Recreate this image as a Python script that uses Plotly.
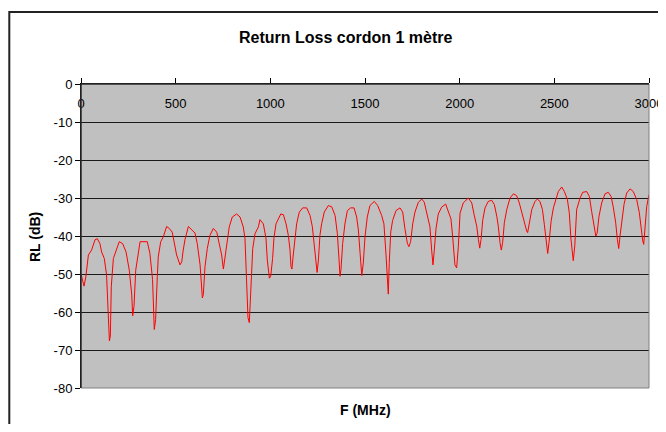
import plotly.graph_objects as go

freq_mhz = [0, 16, 26, 39, 56, 74, 86, 100, 109, 123, 135, 144, 150, 155, 160, 171, 188, 202, 220, 238,
            255, 268, 273, 280, 289, 303, 312, 338, 350, 364, 378, 387, 394, 403, 408, 421, 435, 452, 466, 482,
            493, 505, 523, 532, 540, 549, 567, 585, 602, 614, 629, 641, 646, 655, 667, 681, 699, 717, 731, 743,
            752, 755, 770, 783, 799, 822, 840, 857, 866, 875, 882, 889, 896, 907, 919, 937, 945, 963, 977, 984,
            995, 1002, 1012, 1019, 1030, 1042, 1055, 1069, 1083, 1095, 1104, 1109, 1114, 1121, 1130, 1139, 1153, 1171, 1192, 1210,
            1222, 1233, 1241, 1247, 1254, 1262, 1271, 1285, 1306, 1324, 1342, 1354, 1363, 1368, 1373, 1382, 1394, 1407, 1424, 1442,
            1456, 1465, 1474, 1483, 1491, 1500, 1512, 1526, 1549, 1567, 1588, 1600, 1611, 1618, 1623, 1628, 1636, 1646, 1664, 1685,
            1699, 1711, 1724, 1732, 1741, 1752, 1764, 1782, 1800, 1813, 1829, 1843, 1852, 1859, 1866, 1875, 1887, 1905, 1926, 1940,
            1954, 1963, 1975, 1984, 1993, 2002, 2019, 2046, 2064, 2076, 2090, 2099, 2106, 2113, 2122, 2134, 2151, 2169, 2183, 2196,
            2204, 2213, 2220, 2227, 2236, 2249, 2266, 2284, 2301, 2315, 2328, 2340, 2354, 2359, 2368, 2381, 2398, 2410, 2424, 2437,
            2447, 2456, 2465, 2472, 2483, 2495, 2509, 2521, 2539, 2553, 2569, 2579, 2588, 2595, 2600, 2608, 2618, 2636, 2650, 2671,
            2685, 2697, 2710, 2719, 2726, 2736, 2750, 2768, 2785, 2800, 2812, 2824, 2833, 2840, 2847, 2856, 2868, 2882, 2900, 2917,
            2935, 2949, 2958, 2967, 2972, 2979, 2988, 3000]

rl_db = [-50, -53.2, -50.6, -45, -43.7, -41, -40.7, -42, -44.2, -45.9, -50.2, -60.2, -67.6, -66.3, -53.3, -45.9, -43.7, -41.5, -42, -44.2,
         -49, -55.5, -61, -58.5, -49, -45, -41.5, -41.5, -41.5, -44.6, -51.5, -64.6, -62, -50.7, -45.5, -41.5, -40.2, -37.5, -38, -39,
         -41.5, -45, -47.6, -46.8, -43.7, -41, -37.5, -38.3, -39.2, -42, -47.6, -56.3, -55.4, -48, -43.3, -39.8, -38, -39, -42, -45,
         -48.7, -47.6, -41.5, -37.6, -35, -34.2, -35, -37.6, -40.6, -51.5, -61.5, -62.8, -54.2, -43.3, -39.4, -37.6, -35.7, -36.8, -40.6, -46.3,
         -51.1, -50.6, -45.9, -40.6, -36.8, -35.5, -34.2, -34.4, -36.8, -39.8, -43.7, -48, -48.7, -45, -39.8, -36.8, -33.7, -32.6, -32.6, -34.6,
         -37.6, -42.8, -48, -49.6, -46.3, -39.8, -36.8, -33.7, -32, -32.3, -34.6, -39.4, -46.3, -50.6, -48.9, -42, -36.8, -33.3, -32.6, -32.6,
         -35, -38.4, -44.5, -50.4, -47.1, -40.2, -35, -32, -30.9, -32, -34.6, -36.8, -45, -53.3, -55.3, -47.2, -38.9, -35.9, -33.3, -32.6,
         -33.7, -38.1, -42, -42.8, -41.5, -36.8, -33.7, -31.1, -30.3, -31.1, -34.2, -37.6, -43.7, -47.6, -43.7, -38.1, -34.2, -32.4, -31.6, -33.7,
         -35.5, -40.2, -47.6, -48.4, -42.8, -34, -31.3, -30, -31.3, -34.3, -37.4, -40.9, -43.2, -40.9, -35.7, -32.6, -30.9, -30.6, -31.7, -34.8,
         -37.4, -41.7, -43.7, -41.7, -36.5, -33, -30, -28.9, -29.4, -31.3, -33.9, -36.5, -38.7, -39.1, -36.1, -33, -30.9, -30.3, -30.9, -33,
         -36.9, -41.3, -44.6, -41.7, -36.1, -32.6, -30.4, -28.3, -27.1, -28.3, -30.4, -33.9, -40.9, -45.7, -46.5, -42.6, -33, -30, -28.5, -28.3,
         -29.6, -33.5, -37.4, -40, -39.3, -34.8, -31.3, -28.9, -28.5, -29.6, -32.6, -36.5, -40.9, -43.3, -40, -35.7, -31.7, -28.7, -27.6, -28.3,
         -30.4, -33.9, -38.3, -41.3, -42.2, -37.4, -32.2, -29.1]

x_tick_vals = [0, 500, 1000, 1500, 2000, 2500, 3000]
x_tick_text = ["0", "500", "1000", "1500", "2000", "2500", "3000"]
y_tick_vals = [0, -10, -20, -30, -40, -50, -60, -70, -80]
y_tick_text = ["0", "-10", "-20", "-30", "-40", "-50", "-60", "-70", "-80"]

title_text = "Return Loss cordon 1 mètre"
x_title = "F (MHz)"
y_title = "RL (dB)"

FONT = "Liberation Sans, Arial, sans-serif"

fig = go.Figure()
fig.add_trace(go.Scatter(x=freq_mhz, y=rl_db, mode="lines",
                         line=dict(color="#FF0000", width=1), showlegend=False, hoverinfo="x+y"))

# page has an 8px body margin; keep the figure inside the viewport (no scrollbars)
OFF = 8
W, H = 666 - OFF, 432 - 2 * OFF
L, R, T, B = 81 - OFF, 649 - OFF, 84 - OFF, 388 - OFF
pw, ph = R - L, B - T

def px_x(p):
    return (p - OFF - L) / pw

def px_y(p):
    return (B - (p - OFF)) / ph

fig.update_layout(
    width=W, height=H,
    margin=dict(l=L, r=W - R, t=T, b=H - B, pad=0, autoexpand=False),
    paper_bgcolor="white",
    plot_bgcolor="#C0C0C0",
    font=dict(family=FONT, size=13, color="black"),
    xaxis=dict(range=[0, 3000], side="top", tickvals=x_tick_vals, ticktext=x_tick_text,
               ticks="outside", ticklen=5, tickcolor="black", tickwidth=1, automargin=False,
               ticklabelposition="inside", ticklabeloverflow="allow", ticklabelstandoff=15,
               showgrid=False, zeroline=False, showline=True, linecolor="black", linewidth=1,
               tickfont=dict(family=FONT, size=13, color="black"), fixedrange=True),
    yaxis=dict(range=[-80, 0], tickvals=y_tick_vals, ticktext=y_tick_text,
               ticks="outside", ticklen=5, tickcolor="black", tickwidth=1, automargin=False,
               showgrid=True, gridcolor="#1a1a1a", gridwidth=1, zeroline=False,
               showline=True, linecolor="black", linewidth=1,
               tickfont=dict(family=FONT, size=13, color="black"), fixedrange=True),
    shapes=[
        dict(type="rect", xref="paper", yref="paper", x0=0, x1=1, y0=0, y1=1,
             line=dict(color="#808080", width=1), fillcolor="rgba(0,0,0,0)", layer="above"),
        dict(type="line", xref="paper", yref="paper", x0=0, x1=1, y0=1, y1=1,
             line=dict(color="black", width=1), layer="above"),
        dict(type="line", xref="paper", yref="paper", x0=0, x1=0, y0=0, y1=1,
             line=dict(color="black", width=1), layer="above"),
        # chart-area frame
        dict(type="rect", xref="paper", yref="paper",
             x0=px_x(9.3), x1=px_x(720), y0=px_y(470), y1=px_y(12),
             line=dict(color="#222222", width=2), fillcolor="rgba(0,0,0,0)", layer="above"),
    ],
    annotations=[
        dict(text="<b>" + title_text + "</b>", xref="paper", yref="paper",
             x=px_x(345), y=px_y(37), xanchor="center", yanchor="middle", showarrow=False,
             font=dict(family=FONT, size=16, color="black")),
        dict(text="<b>" + x_title + "</b>", xref="paper", yref="paper",
             x=px_x(365), y=px_y(410), xanchor="center", yanchor="middle", showarrow=False,
             font=dict(family=FONT, size=14, color="black")),
        dict(text="<b>" + y_title + "</b>", xref="paper", yref="paper",
             x=px_x(35), y=px_y(237), xanchor="center", yanchor="middle", showarrow=False,
             textangle=-90, font=dict(family=FONT, size=14, color="black")),
    ],
)

fig.write_html("out.html")
